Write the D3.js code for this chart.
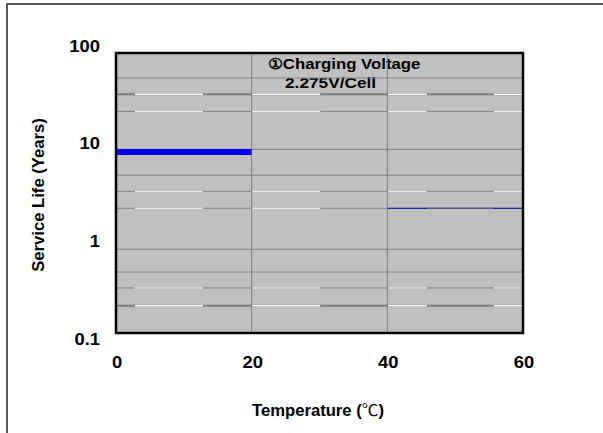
<!DOCTYPE html>
<html>
<head>
<meta charset="utf-8">
<script src="https://cdn.jsdelivr.net/npm/d3@7"></script>
<style>
  body { margin: 0; background: #fff; }
  text { font-family: "Liberation Sans", Arial, sans-serif; font-weight: bold; fill: #000; }
</style>
</head>
<body>
<svg id="chart"></svg>
<script>
const width = 603;
const height = 433;
const frame = { left: 116, right: 523, top: 53, bottom: 333 };

// data
const xTicks = [0, 20, 40, 60];
const yTicks = [0.1, 1, 10, 100];
const yTickLabels = ["0.1", "1", "10", "100"];
const vGrid = [20, 40];
const hGrid = [47, 32, 21.4, 8.75, 4.75, 3.25, 2.18, 0.83, 0.485, 0.333, 0.219];
const hGridThick = [32, 0.219];
const hGridDashed = [32, 21.4, 3.25, 2.18, 0.333, 0.219];
const dashRanges = [[2.8, 12.8], [20, 30.1], [40.1, 45.8], [55.7, 60]];
const lifeTemp = [0, 20];
const lifeYears = [8.2, 8.2];
const remnantTemp = [40, 60];
const remnantYears = [2.18, 2.18];

const svg = d3.select("#chart").attr("width", width).attr("height", height);

const x = d3.scaleLinear().domain([0, 60]).range([frame.left, frame.right]);
const y = d3.scaleLog().domain([0.1, 100]).range([339, 46]);

// outer frame (left + top edges only visible)
svg.append("path")
  .attr("d", `M7,${height} V4 H${width}`)
  .attr("fill", "none")
  .attr("stroke", "#222")
  .attr("stroke-width", 1.5);

svg.append("clipPath").attr("id", "plot")
  .append("rect")
  .attr("x", frame.left).attr("y", frame.top)
  .attr("width", frame.right - frame.left).attr("height", frame.bottom - frame.top);

svg.append("rect")
  .attr("x", frame.left).attr("y", frame.top)
  .attr("width", frame.right - frame.left).attr("height", frame.bottom - frame.top)
  .attr("fill", "#c0c0c0");

const g = svg.append("g").attr("clip-path", "url(#plot)");

// note text sits under the grid
const note = g.append("g");
note.append("text")
  .attr("transform", "translate(268,69) scale(1.12,1)")
  .style("font-size", "15px")
  .text("①Charging Voltage");
note.append("text")
  .attr("transform", "translate(285,88) scale(1.15,1)")
  .style("font-size", "15px")
  .text("2.275V/Cell");

g.selectAll(".hgrid").data(hGrid).enter().append("line")
  .attr("class", "hgrid")
  .attr("x1", frame.left).attr("x2", frame.right)
  .attr("y1", d => y(d)).attr("y2", d => y(d))
  .attr("stroke", "#808080")
  .attr("stroke-width", d => hGridThick.includes(d) ? 2 : 1);

hGridDashed.forEach(v => {
  dashRanges.forEach(r => {
    if (v === 2.18 && r[0] >= 40) return;
    g.append("line")
      .attr("x1", x(r[0])).attr("x2", x(r[1]))
      .attr("y1", y(v)).attr("y2", y(v))
      .attr("stroke", "#fff")
      .attr("stroke-width", hGridThick.includes(v) ? 1.5 : 1);
  });
});

const line = d3.line().x(d => x(d[0])).y(d => y(d[1]));

g.append("path")
  .datum(d3.zip(remnantTemp, remnantYears))
  .attr("d", line)
  .attr("fill", "none")
  .attr("stroke", "#0000b0")
  .attr("stroke-width", 1);
g.append("line")
  .attr("x1", x(45.8)).attr("x2", x(55.7))
  .attr("y1", y(2.18)).attr("y2", y(2.18))
  .attr("stroke", "#808080").attr("stroke-opacity", 0.75)
  .attr("stroke-width", 1);

g.selectAll(".vgrid").data(vGrid).enter().append("line")
  .attr("class", "vgrid")
  .attr("x1", d => x(d)).attr("x2", d => x(d))
  .attr("y1", frame.top).attr("y2", frame.bottom)
  .attr("stroke", "#808080")
  .attr("stroke-width", 1);

g.append("path")
  .datum(d3.zip(lifeTemp, lifeYears))
  .attr("d", line)
  .attr("fill", "none")
  .attr("stroke", "#0000ff")
  .attr("stroke-width", 6);

svg.append("rect")
  .attr("x", frame.left).attr("y", frame.top)
  .attr("width", frame.right - frame.left).attr("height", frame.bottom - frame.top)
  .attr("fill", "none")
  .attr("stroke", "#000")
  .attr("stroke-width", 2.5);

// tick labels
svg.selectAll(".ylab").data(yTicks).enter().append("text")
  .attr("class", "ylab")
  .attr("transform", d => `translate(100,${y(d)}) scale(1.15,1)`)
  .attr("text-anchor", "end")
  .attr("dy", "0.36em")
  .style("font-size", "16px")
  .text((d, i) => yTickLabels[i]);

svg.selectAll(".xlab").data(xTicks).enter().append("text")
  .attr("class", "xlab")
  .attr("transform", d => `translate(${x(d) + 1},${368}) scale(1.15,1)`)
  .attr("text-anchor", "middle")
  .style("font-size", "16px")
  .text(d => d);

// axis titles
const xt = svg.append("text")
  .attr("transform", "translate(318,416) scale(1.04,1)")
  .attr("text-anchor", "middle")
  .style("font-size", "16px");
xt.append("tspan").text("Temperature (");
xt.append("tspan").style("font-weight", "normal")
  .style("font-family", "'Noto Sans CJK JP', sans-serif").text("℃");
xt.append("tspan").text(")");

svg.append("text")
  .attr("transform", "translate(44,195) rotate(-90) scale(1.04,1)")
  .attr("text-anchor", "middle")
  .style("font-size", "16px")
  .text("Service Life (Years)");
</script>
</body>
</html>
